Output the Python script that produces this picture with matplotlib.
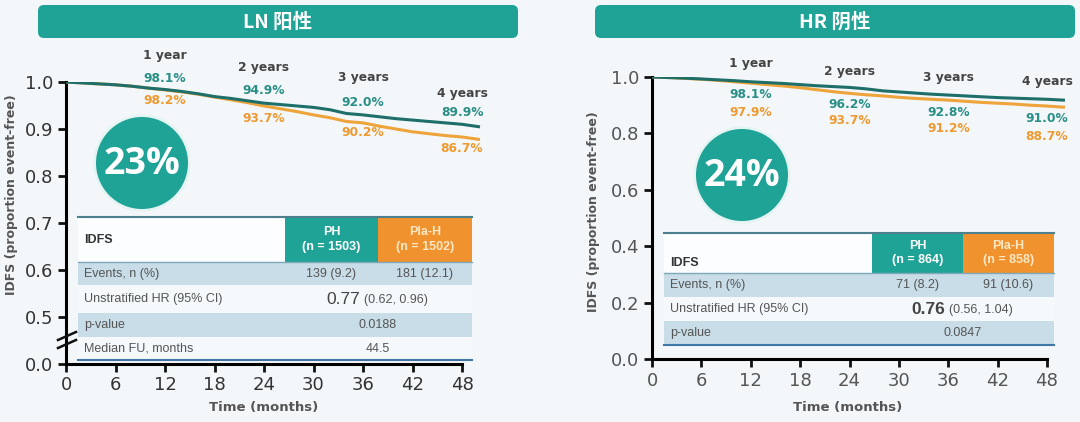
import matplotlib.pyplot as plt
from matplotlib import transforms
from matplotlib.patches import Rectangle, Circle, FancyBboxPatch

# ---- data ----
months = [0, 2, 4, 6, 8, 10, 12, 14, 16, 18, 20, 22, 24, 26, 28, 30, 32, 34, 36,
          38, 40, 42, 44, 46, 48, 50]

ln_ph = [1.000, 0.998, 0.996, 0.994, 0.991, 0.987, 0.984, 0.980, 0.975, 0.969,
         0.965, 0.960, 0.955, 0.952, 0.949, 0.946, 0.941, 0.933, 0.930, 0.926,
         0.922, 0.919, 0.916, 0.913, 0.910, 0.905]
ln_plah = [1.000, 0.998, 0.996, 0.994, 0.991, 0.987, 0.983, 0.979, 0.974, 0.968,
           0.962, 0.956, 0.949, 0.943, 0.937, 0.930, 0.924, 0.916, 0.913, 0.906,
           0.900, 0.894, 0.890, 0.886, 0.883, 0.878]
hr_ph = [1.000, 0.998, 0.996, 0.993, 0.990, 0.987, 0.983, 0.980, 0.977, 0.973,
         0.969, 0.966, 0.963, 0.958, 0.951, 0.947, 0.943, 0.939, 0.936, 0.933,
         0.930, 0.927, 0.925, 0.923, 0.921, 0.918]
hr_plah = [1.000, 0.998, 0.995, 0.992, 0.988, 0.983, 0.978, 0.973, 0.968, 0.962,
           0.955, 0.948, 0.942, 0.937, 0.933, 0.928, 0.924, 0.921, 0.918, 0.914,
           0.910, 0.907, 0.904, 0.900, 0.897, 0.893]

year_months = [12, 24, 36, 48]
year_labels = ['1 year', '2 years', '3 years', '4 years']
ln_ph_pct = ['98.1%', '94.9%', '92.0%', '89.9%']
ln_plah_pct = ['98.2%', '93.7%', '90.2%', '86.7%']
hr_ph_pct = ['98.1%', '96.2%', '92.8%', '91.0%']
hr_plah_pct = ['97.9%', '93.7%', '91.2%', '88.7%']

x_ticks = [0, 6, 12, 18, 24, 30, 36, 42, 48]

TEAL = '#1fa396'
TEAL_LINE = '#1e6f6a'
TEAL_TXT = '#2a8f86'
ORANGE = '#f0922e'
ORANGE_LINE = '#eea43a'
ORANGE_TXT = '#ee9a30'
ROWBLUE = '#c8dde7'
GRAY = '#555555'
CJK = ['Noto Sans CJK SC', 'DejaVu Sans']
TF = 'Liberation Sans'

W, H = 1080, 422
fig = plt.figure(figsize=(W / 100, H / 100), dpi=100)
fig.patch.set_facecolor('#f3f7fa')


def make_axes(x0, x48, ybot, ytop):
    w = (x48 - x0) * 51 / 48
    ax = fig.add_axes([x0 / W, 1 - ybot / H, w / W, (ybot - ytop) / H])
    ax.set_facecolor('none')
    ax.set_xlim(0, 51)
    for s in ['top', 'right']:
        ax.spines[s].set_visible(False)
    for s in ['left', 'bottom']:
        ax.spines[s].set_linewidth(2.2)
    ax.spines['bottom'].set_bounds(0, 48)
    ax.set_xticks(x_ticks)
    ax.tick_params(length=6, width=2, labelsize=13, pad=3, colors='#111111',
                   labelcolor='#333333')
    return ax


ax1 = make_axes(66, 462, 364, 82)
ax1.set_ylim(0.4, 1.0)
ax1.set_yticks([0.4, 0.5, 0.6, 0.7, 0.8, 0.9, 1.0])
ax1.set_yticklabels(['0.0', '0.5', '0.6', '0.7', '0.8', '0.9', '1.0'])

ax2 = make_axes(652, 1047, 359, 77)
ax2.set_ylim(0, 1.0)
ax2.set_yticks([0, 0.2, 0.4, 0.6, 0.8, 1.0])
ax2.set_yticklabels(['0.0', '0.2', '0.4', '0.6', '0.8', '1.0'])
ax2.tick_params(labelcolor='#555555')

ax1.plot(months, ln_plah, color=ORANGE_LINE, lw=2.2, zorder=3)
ax1.plot(months, ln_ph, color=TEAL_LINE, lw=2.2, zorder=4)
ax2.plot(months, hr_plah, color=ORANGE_LINE, lw=2.2, zorder=3)
ax2.plot(months, hr_ph, color=TEAL_LINE, lw=2.2, zorder=4)

# overlay in pixel coordinates for decoration
ov = fig.add_axes([0, 0, 1, 1], zorder=5)
ov.set_xlim(0, W)
ov.set_ylim(H, 0)
ov.axis('off')
ov.patch.set_alpha(0)

# axis break marks on left panel
for dy in (-4, 4):
    ov.plot([58, 76], [344 + dy, 336 + dy], color='#111111', lw=1.8)

# titles banners
for x0, x1, title in [(38, 518, 'LN 阳性'), (595, 1075, 'HR 阴性')]:
    ov.add_patch(FancyBboxPatch((x0, 5), x1 - x0, 33,
                                boxstyle='round,pad=0,rounding_size=6',
                                fc=TEAL, ec='none'))
    ov.text((x0 + x1) / 2, 22, title, color='white', fontsize=14,
            fontweight='bold', family=CJK, ha='center', va='center')

# axis labels
for x, y in [(12, 195), (594, 212)]:
    ov.text(x, y, 'IDFS (proportion event-free)', rotation=90, fontsize=9,
            fontweight='bold', color=GRAY, ha='center', va='center')
for x in (264, 848):
    ov.text(x, 407, 'Time (months)', fontsize=9.5, fontweight='bold',
            color=GRAY, ha='center', va='center')

# landmark annotations (x in months, y in pixels)
ann = [
    (ax1, [56, 67, 78, 93], [78, 90, 102, 112], [100, 119, 133, 148],
     ln_ph_pct, ln_plah_pct),
    (ax2, [63, 72, 78, 81], [94, 104, 113, 119], [112, 121, 129, 137],
     hr_ph_pct, hr_plah_pct),
]
for ax, yy, yt, yo, pt, po in ann:
    tr = transforms.blended_transform_factory(ax.transData, ov.transData)
    for i, m in enumerate(year_months):
        ax.text(m, yy[i], year_labels[i], transform=tr, fontsize=8.8, fontweight='bold',
                color='#444444', ha='center', va='center', clip_on=False, zorder=6)
        ax.text(m, yt[i], pt[i], transform=tr, fontsize=8.8, fontweight='bold',
                color=TEAL_TXT, ha='center', va='center', clip_on=False, zorder=6)
        ax.text(m, yo[i], po[i], transform=tr, fontsize=8.8, fontweight='bold',
                color=ORANGE_TXT, ha='center', va='center', clip_on=False, zorder=6)

# reduction circles
for cx, cy, txt in [(142, 163, '23%'), (742, 175, '24%')]:
    ov.add_patch(Circle((cx, cy), 48.5, fc='#e4f4f2', ec='none'))
    ov.add_patch(Circle((cx, cy), 46, fc=TEAL, ec='none'))
    ov.text(cx, cy + 1, txt, color='white', fontsize=27, fontweight='bold',
            family='Open Sans', ha='center', va='center')


def table(x0, x1, xph, xpla, rows_y, header, rows, hr, hr_bold, idfs_y):
    y_top = rows_y[0]
    # header
    ov.add_patch(Rectangle((x0, y_top), xph - x0, rows_y[1] - y_top, fc='#fbfdfe', ec='none'))
    ov.add_patch(Rectangle((xph, y_top), xpla - xph, rows_y[1] - y_top, fc=TEAL, ec='none'))
    ov.add_patch(Rectangle((xpla, y_top), x1 - xpla, rows_y[1] - y_top, fc=ORANGE, ec='none'))
    hy = (y_top + rows_y[1]) / 2
    ov.text(x0 + 6, idfs_y, 'IDFS', fontsize=9, fontweight='bold', color='#333333',
            family=TF, va='center')
    ov.text((xph + xpla) / 2, hy, header[0], fontsize=9, fontweight='bold', color='white',
            family=TF, ha='center', va='center', linespacing=1.25)
    ov.text((xpla + x1) / 2, hy, header[1], fontsize=9, fontweight='bold', color='#fde8c6',
            family=TF, ha='center', va='center', linespacing=1.25)
    xc = (xph + xpla) / 2
    xo = (xpla + x1) / 2
    for i, row in enumerate(rows):
        ya, yb = rows_y[i + 1], rows_y[i + 2]
        fc = ROWBLUE if i % 2 == 0 else '#f5f9fb'
        ov.add_patch(Rectangle((x0, ya), x1 - x0, yb - ya, fc=fc, ec='none'))
        ym = (ya + yb) / 2
        ov.text(x0 + 6, ym, row[0], fontsize=9, color=GRAY, family=TF, va='center')
        if i == 1:
            ov.text(xpla - 18, ym, hr[0], fontsize=12.5,
                    fontweight='bold' if hr_bold else 'normal', color='#444444',
                    family=TF, ha='right', va='center')
            ov.text(xpla - 14, ym + 1, hr[1], fontsize=9, color=GRAY,
                    family=TF, ha='left', va='center')
        elif len(row) == 3:
            ov.text(xc, ym, row[1], fontsize=9, color=GRAY, family=TF,
                    ha='center', va='center')
            ov.text(xo, ym, row[2], fontsize=9, color=GRAY, family=TF,
                    ha='center', va='center')
        else:
            ov.text(xpla, ym, row[1], fontsize=9, color=GRAY, family=TF,
                    ha='center', va='center')
    ov.plot([x0, x1], [y_top, y_top], color='#4d7f8c', lw=1.5)
    ov.plot([x0, x1], [rows_y[1], rows_y[1]], color='#7fa9bb', lw=1)
    ov.plot([x0, x1], [rows_y[-1], rows_y[-1]], color='#3f77a6', lw=1.5)


table(78, 472, 285, 378, [217, 262, 285, 313, 337, 360],
      ['PH\n(n = 1503)', 'Pla-H\n(n = 1502)'],
      [['Events, n (%)', '139 (9.2)', '181 (12.1)'],
       ['Unstratified HR (95% CI)'],
       ['p-value', '0.0188'],
       ['Median FU, months', '44.5']],
      ['0.77', '(0.62, 0.96)'], False, 240)

table(664, 1054, 872, 963, [233, 273, 297, 321, 345],
      ['PH\n(n = 864)', 'Pla-H\n(n = 858)'],
      [['Events, n (%)', '71 (8.2)', '91 (10.6)'],
       ['Unstratified HR (95% CI)'],
       ['p-value', '0.0847']],
      ['0.76', '(0.56, 1.04)'], True, 263)

fig.savefig('out.png', dpi=100, facecolor=fig.get_facecolor())
